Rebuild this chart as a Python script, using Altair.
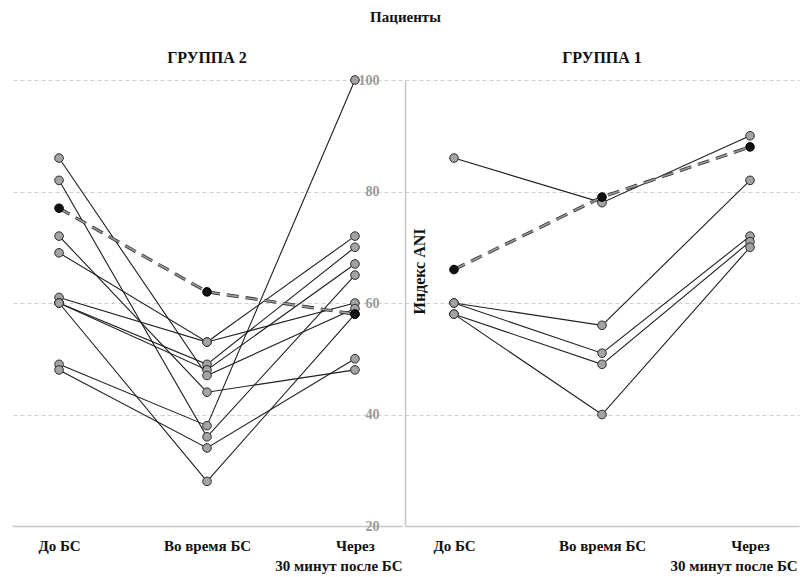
import altair as alt
import pandas as pd

stages = ["До БС", "Во время БС", "Через 30 минут после БС"]
last_line2 = "30 минут после БС"

# ГРУППА 2 (grey patients)
g2_before = [61, 69, 60, 60, 86, 72, 49, 82, 48, 60]
g2_during = [53, 53, 49, 48, 47, 44, 38, 36, 34, 28]
g2_after = [72, 60, 70, 67, 59, 48, 100, 65, 50, 58]
g2_marked = [77, 62, 58]

# ГРУППА 1 (grey patients)
g1_before = [86, 60, 60, 58, 58]
g1_during = [78, 56, 51, 49, 40]
g1_after = [90, 82, 72, 71, 70]
g1_marked = [66, 79, 88]

y_ticks = [20, 40, 60, 80, 100]

FONT = "Liberation Serif"
H = 446


def frames(before, during, after, marked):
    rows = []
    for i, vals in enumerate(zip(before, during, after)):
        for s, v in zip(stages, vals):
            rows.append({"patient": f"p{i}", "stage": s, "value": v})
    gray = pd.DataFrame(rows)
    black = pd.DataFrame({"patient": ["m"] * 3, "stage": stages, "value": marked})
    return gray, black


def panel(before, during, after, marked, title, width, pad, yaxis, title_offset):
    gray, black = frames(before, during, after, marked)
    x = alt.X(
        "stage:N",
        sort=stages,
        scale=alt.Scale(type="point", padding=pad),
        axis=alt.Axis(
            title=None,
            labelExpr="datum.label == 'Через 30 минут после БС' ? 'Через' : datum.label",
            labelAngle=0,
            labelFont=FONT,
            labelFontWeight="bold",
            labelFontSize=15,
            labelColor="#111",
            labelPadding=12,
            ticks=False,
            domainColor="#c8c8c8",
            domainWidth=1.5,
            grid=False,
        ),
    )
    y = alt.Y("value:Q", scale=alt.Scale(domain=[20, 100], nice=False, zero=False), axis=yaxis)

    lines = alt.Chart(gray).mark_line(color="#1e1e1e", strokeWidth=1.1).encode(x=x, y=y, detail="patient:N")
    pts = alt.Chart(gray).mark_circle(size=74, color="#a3a3a3", stroke="#2b2b2b", strokeWidth=1, opacity=1).encode(
        x=x, y=y
    )
    bl_outer = alt.Chart(black).mark_line(color="#333333", strokeWidth=3.2, strokeDash=[12, 7]).encode(
        x=x, y=y, detail="patient:N"
    )
    bl_inner = alt.Chart(black).mark_line(color="#9a9a9a", strokeWidth=1.6, strokeDash=[12, 7]).encode(
        x=x, y=y, detail="patient:N"
    )
    bpts = alt.Chart(black).mark_circle(size=74, color="#111111", stroke="#000", strokeWidth=1, opacity=1).encode(
        x=x, y=y
    )
    lab2 = alt.Chart(pd.DataFrame({"stage": [stages[2]], "txt": [last_line2]})).mark_text(
        font=FONT, fontWeight="bold", fontSize=15, color="#111", dx=-16, baseline="middle"
    ).encode(x=x, y=alt.value(H + 40), text="txt:N")

    return alt.layer(lines, bl_outer, bl_inner, pts, bpts, lab2).properties(
        width=width,
        height=H,
        title=alt.Title(title, font=FONT, fontSize=16, fontWeight="bold", color="#111", offset=title_offset),
    )


left_axis = alt.Axis(
    orient="right",
    title=None,
    values=y_ticks,
    labelAlign="right",
    labelPadding=-23,
    labelBaseline="middle",
    labelFont=FONT,
    labelFontWeight="bold",
    labelFontSize=14,
    labelColor="#9a9a9a",
    ticks=False,
    domain=False,
    grid=True,
    gridDash=[4, 3],
    gridColor="#cfcfcf",
)

right_axis = alt.Axis(
    orient="left",
    title="Индекс ANI",
    values=y_ticks,
    labels=False,
    ticks=False,
    domain=True,
    domainColor="#c8c8c8",
    domainWidth=1.5,
    grid=True,
    gridDash=[4, 3],
    gridColor="#cfcfcf",
    titleX=14,
    titleY=191,
    titleAngle=270,
    titleAlign="center",
    titleBaseline="middle",
    titleFont=FONT,
    titleFontSize=16,
    titleFontWeight="bold",
    titleColor="#111",
)

left = panel(g2_before, g2_during, g2_after, g2_marked, "ГРУППА 2", 390, 0.318, left_axis, 7)
right = panel(g1_before, g1_during, g1_after, g1_marked, "ГРУППА 1", 394, 0.331, right_axis, 14)

chart = (
    alt.hconcat(left, right, spacing=2)
    .properties(
        title=alt.Title("Пациенты", font=FONT, fontSize=15, fontWeight="bold", color="#111", anchor="middle", offset=25),
        padding={"left": 12, "top": 10, "right": 5, "bottom": 2},
    )
    .configure_view(strokeWidth=0)
    .resolve_scale(y="independent")
)

chart.save("out.html", embed_options={"renderer": "svg", "actions": False})
